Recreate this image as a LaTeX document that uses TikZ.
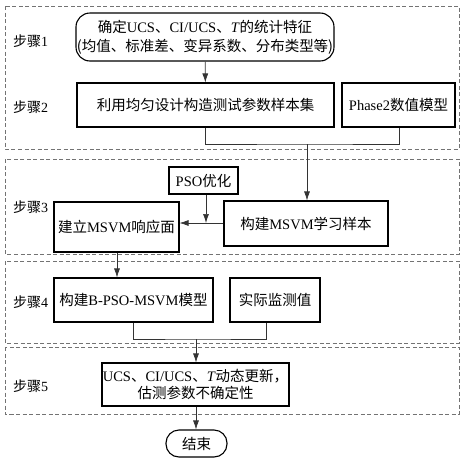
\documentclass[tikz,border=0pt]{standalone}
\usepackage{fontspec}
\setmainfont{Liberation Serif}
\newfontfamily\cjk{Noto Sans CJK SC}
\newcommand{\zh}[1]{{\cjk #1}}
\usetikzlibrary{arrows.meta}
\begin{document}
\begin{tikzpicture}[x=1pt,y=-1pt,
  every node/.style={font=\fontsize{14.5}{19}\selectfont, inner sep=0pt},
  box/.style={draw=black, line width=1.1pt, fill=white, align=center},
  stage/.style={draw=black!55, line width=0.8pt, dash pattern=on 4pt off 2.5pt},
  conn/.style={draw=black!80, line width=0.7pt},
  arr/.style={conn, -{Latex[length=9pt,width=6pt]}},
  steplabel/.style={anchor=west, font=\fontsize{14}{16}\selectfont}]
\useasboundingbox (0,0) rectangle (466,464);
% stage frames
\draw[stage] (5,6) rectangle (459,149);
\draw[stage] (5,159) rectangle (459,254);
\draw[stage] (5,261) rectangle (459,343);
\draw[stage] (5,347) rectangle (459,414);
% step labels
\node[steplabel] (s1) at (13,41) {\zh{步骤}1};
\node[steplabel] (s2) at (13,107) {\zh{步骤}2};
\node[steplabel] (s3) at (13,207) {\zh{步骤}3};
\node[steplabel] (s4) at (13,302) {\zh{步骤}4};
\node[steplabel] (s5) at (13,386) {\zh{步骤}5};
% nodes
\node[box, rounded corners=14pt, minimum width=258pt, minimum height=48pt] (n1) at (205,37)
  {\zh{确定}UCS\zh{、}CI/UCS\zh{、}\textit{T}\zh{的统计特征}\\\zh{(均值、标准差、变异系数、分布类型等)}};
\node[box, minimum width=257pt, minimum height=44pt] (n2) at (205.5,105) {\zh{利用均匀设计构造测试参数样本集}};
\node[box, minimum width=113pt, minimum height=44pt] (ph) at (398.5,105) {Phase2\zh{数值模型}};
\node[box, minimum width=69pt, minimum height=27pt] (pso) at (203.5,180.5) {PSO\zh{优化}};
\node[box, minimum width=125pt, minimum height=50pt] (bd) at (116.5,227) {\zh{建立}MSVM\zh{响应面}};
\node[box, minimum width=164pt, minimum height=45pt] (ls) at (306,223.5) {\zh{构建}MSVM\zh{学习样本}};
\node[box, minimum width=159pt, minimum height=44pt] (bp) at (133.5,300) {\zh{构建}B-PSO-MSVM\zh{模型}};
\node[box, minimum width=90pt, minimum height=44pt] (am) at (275,300) {\zh{实际监测值}};
\node[box, minimum width=187pt, minimum height=43pt, font=\fontsize{14.5}{17.5}\selectfont] (uc) at (195.5,384.5)
  {UCS\zh{、}CI/UCS\zh{、}\textit{T}\zh{动态更新，}\\\zh{估测参数不确定性}};
\node[box, rounded corners=13pt, minimum width=61pt, minimum height=27pt] (en) at (196.5,443.5) {\zh{结束}};
% junction coordinates
\coordinate (j1) at (307,144);
\coordinate (j2) at (206,223);
\coordinate (j3) at (196,339);
% connectors
\draw[arr] (n1) -- (n2);
\draw[conn] (n2.south) |- (j1) -| (ph.south -| 399,0);
\draw[arr] (j1) -- (j1 |- ls.north);
\draw[arr] (ls.west |- j2) -- (bd.east |- j2);
\draw[arr] (pso.south -| j2) -- (j2);
\draw[arr] (bd.south -| 117,0) -- (bp.north -| 117,0);
\draw[conn] (bp.south -| 133,0) |- (j3) -| (am.south -| 266,0);
\draw[arr] (j3) -- (j3 |- uc.north);
\draw[arr] (uc.south -| 196,0) -- (en.north -| 196,0);
\end{tikzpicture}
\end{document}
